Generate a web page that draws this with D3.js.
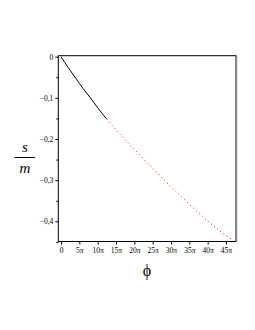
<!DOCTYPE html>
<html>
<head>
<meta charset="utf-8">
<script src="https://cdn.jsdelivr.net/npm/d3@7"></script>
<style>
  body { margin: 0; background: #fff; }
  svg { display: block; }
  .domain { display: none; }
</style>
</head>
<body>
<div id="chart"></div>
<script>
// phi in units of pi, s/m values
var phiSolid = [0, 2, 4, 6, 8, 10, 12.4];
var sSolid = [0, -0.027, -0.052, -0.077, -0.100, -0.124, -0.151];

var phiDotted = [12.4, 16, 20, 24, 28, 32, 36, 40, 44, 46.8];
var sDotted = [-0.151, -0.187, -0.225, -0.262, -0.298, -0.333, -0.367, -0.399, -0.428, -0.445];

var yTicks = [0, -0.1, -0.2, -0.3, -0.4];
var yMinor = [-0.05, -0.15, -0.25, -0.35, -0.45];
var xTicks = [0, 5, 10, 15, 20, 25, 30, 35, 40, 45];

var serif = "'Liberation Serif', 'Times New Roman', serif";

var width = 255,
    height = 330;

var svg = d3.select("#chart")
    .append("svg")
    .attr("width", width)
    .attr("height", height);

var x = d3.scaleLinear().domain([-0.74, 47.73]).range([58.3, 236]);
var y = d3.scaleLinear().domain([0.0024, -0.449]).range([55.7, 241.5]);

// y axis
svg.append("g")
    .attr("transform", "translate(58.3,0)")
    .call(d3.axisLeft(y)
        .tickValues(yTicks)
        .tickSize(3)
        .tickPadding(2)
        .tickFormat(function (d) {
            return d === 0 ? "0" : d3.format(".1f")(d).replace("-", "\u2212").replace(".", ",");
        }));

svg.append("g")
    .attr("transform", "translate(58.3,0)")
    .call(d3.axisLeft(y).tickValues(yMinor).tickSize(2).tickFormat(""));

// x axis
svg.append("g")
    .attr("transform", "translate(0,241.5)")
    .call(d3.axisBottom(x)
        .tickValues(xTicks)
        .tickSize(3)
        .tickPadding(3)
        .tickFormat(function (d) {
            return d === 0 ? "0" : d + "\u03c0";
        }));

svg.selectAll(".tick line").attr("stroke", "#000");
svg.selectAll(".tick text")
    .attr("font-family", serif)
    .attr("font-size", 7.5)
    .attr("fill", "#000");

// box
svg.append("rect")
    .attr("x", 58.3)
    .attr("y", 55.7)
    .attr("width", 236 - 58.3)
    .attr("height", 241.5 - 55.7)
    .attr("fill", "none")
    .attr("stroke", "#000")
    .attr("stroke-width", 1);

svg.append("line")
    .attr("x1", 236.8).attr("x2", 236.8)
    .attr("y1", 56).attr("y2", 242)
    .attr("stroke", "#999")
    .attr("stroke-width", 1);

var line = d3.line()
    .x(function (d) { return x(d[0]); })
    .y(function (d) { return y(d[1]); })
    .curve(d3.curveMonotoneX);

svg.append("path")
    .datum(d3.zip(phiSolid, sSolid))
    .attr("d", line)
    .attr("fill", "none")
    .attr("stroke", "#000")
    .attr("stroke-width", 1);

svg.append("path")
    .datum(d3.zip(phiDotted, sDotted))
    .attr("d", line)
    .attr("fill", "none")
    .attr("stroke", "#ff0000")
    .attr("stroke-width", 1)
    .attr("stroke-dasharray", "1,3");

// axis titles
svg.append("text")
    .attr("x", 25)
    .attr("y", 152)
    .attr("text-anchor", "middle")
    .attr("font-family", serif)
    .attr("font-style", "italic")
    .attr("font-size", 15)
    .text("s");

svg.append("line")
    .attr("x1", 14.5).attr("x2", 35)
    .attr("y1", 157.5).attr("y2", 157.5)
    .attr("stroke", "#000")
    .attr("stroke-width", 1);

svg.append("text")
    .attr("x", 25)
    .attr("y", 173)
    .attr("text-anchor", "middle")
    .attr("font-family", serif)
    .attr("font-style", "italic")
    .attr("font-size", 15)
    .text("m");

svg.append("text")
    .attr("x", 147)
    .attr("y", 276)
    .attr("text-anchor", "middle")
    .attr("font-family", serif)
    .attr("font-size", 16)
    .text("\u03d5");
</script>
</body>
</html>
